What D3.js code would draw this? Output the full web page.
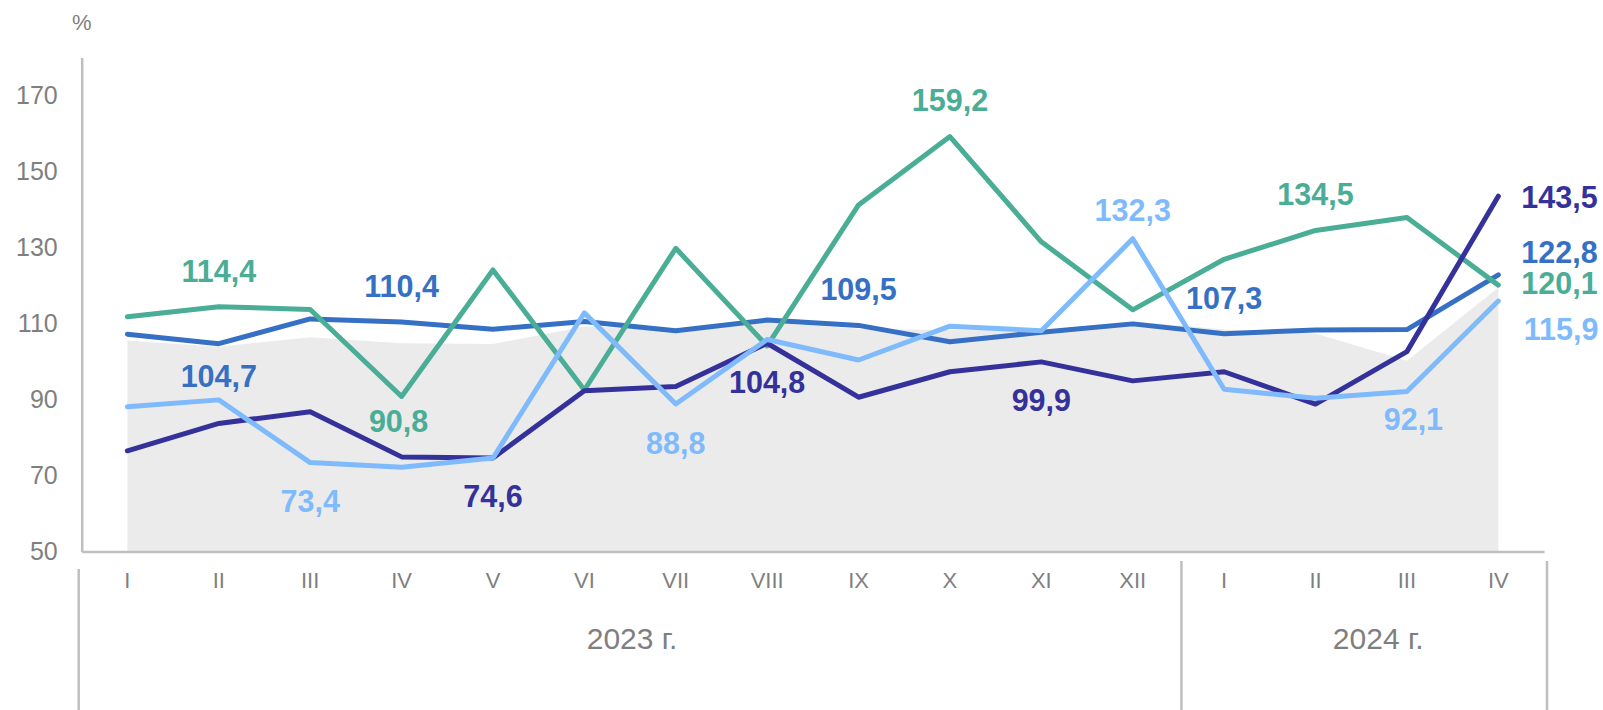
<!DOCTYPE html>
<html>
<head>
<meta charset="utf-8">
<script src="https://cdn.jsdelivr.net/npm/d3@7"></script>
<style>
  body { margin: 0; background: #fff; }
  svg { display: block; font-family: "Liberation Sans", Arial, sans-serif; }
</style>
</head>
<body>
<svg id="chart" width="1603" height="710"></svg>
<script>
// months (2023: I..XII, 2024: I..IV)
var months = ['I','II','III','IV','V','VI','VII','VIII','IX','X','XI','XII','I','II','III','IV'];
var years = ['2023 г.', '2024 г.'];
var yearStart = [0, 12];
var yTicks = [50, 70, 90, 110, 130, 150, 170];

// series values, %
var seriesNavy  = [76.5, 83.7, 86.8, 74.9, 74.6, 92.3, 93.4, 104.8, 90.6, 97.3, 99.9, 94.9, 97.3, 88.8, 102.6, 143.5];
var seriesBlue  = [107.2, 104.7, 111.2, 110.4, 108.5, 110.5, 108.1, 110.9, 109.5, 105.2, 107.7, 109.9, 107.3, 108.3, 108.4, 122.8];
var seriesTeal  = [111.8, 114.4, 113.7, 90.8, 124.1, 92.5, 129.8, 104.1, 141.2, 159.2, 131.5, 113.6, 126.9, 134.5, 137.9, 120.1];
var seriesLight = [88.1, 89.9, 73.4, 72.2, 74.6, 112.8, 88.8, 105.8, 100.4, 109.3, 108.1, 132.3, 92.7, 90.3, 92.1, 115.9];
var seriesArea  = [105.5, 103.9, 106.4, 104.8, 104.6, 109.2, 108.5, 110.3, 108.6, 108.3, 108.2, 110.6, 108.4, 107.4, 100.2, 119.5];

var colors = { navy: '#35319a', blue: '#3570c4', teal: '#4aad96', light: '#7fbbfc', area: '#ebebeb' };
var values = { navy: seriesNavy, blue: seriesBlue, teal: seriesTeal, light: seriesLight };

// which points carry a value label, and where it sits relative to the point
var labels = [
  {s: 'teal', i: 1, dy: -35.5}, {s: 'blue', i: 3, dy: -35.5}, {s: 'blue', i: 1, dy: 32.5},
  {s: 'teal', i: 3, dx: -3, dy: 25}, {s: 'light', i: 2, dy: 38.5}, {s: 'navy', i: 4, dy: 38},
  {s: 'light', i: 6, dy: 39}, {s: 'navy', i: 7, dy: 39}, {s: 'blue', i: 8, dy: -36},
  {s: 'teal', i: 9, dy: -36}, {s: 'navy', i: 10, dy: 38}, {s: 'light', i: 11, dy: -29},
  {s: 'blue', i: 12, dy: -35.5}, {s: 'teal', i: 13, dy: -36}, {s: 'light', i: 14, dx: 6.5, dy: 27.5},
  {s: 'navy', i: 15, dx: 23, dy: 1, end: true}, {s: 'blue', i: 15, dx: 23, dy: -22.4, end: true},
  {s: 'teal', i: 15, dx: 23, dy: -2.3, end: true}, {s: 'light', i: 15, dx: 25.5, dy: 28, end: true}
];

var plotLeft = 81.7, plotRight = 1544, plotTop = 57.5, plotBottom = 551.5;
var svg = d3.select('#chart');

var xScale = d3.scaleBand()
  .domain(d3.range(months.length))
  .range([plotLeft, plotRight])
  .padding(0);
var bw = xScale.bandwidth();
function cx(i) { return xScale(i) + bw / 2; }

var yScale = d3.scaleLinear()
  .domain([50, 180])
  .range([plotBottom, plotTop]);

// grey background area
svg.append('path')
  .datum(seriesArea)
  .attr('fill', colors.area)
  .attr('d', d3.area()
    .x(function(d, i) { return cx(i); })
    .y0(yScale(50))
    .y1(function(d) { return yScale(d); }));

// y axis
var yAxis = svg.append('g')
  .attr('transform', 'translate(' + plotLeft + ',0)')
  .call(d3.axisLeft(yScale).tickValues(yTicks).tickSize(0).tickSizeOuter(0).tickPadding(24));
yAxis.select('.domain').attr('stroke', '#bfbfbf').attr('stroke-width', 2.5);
yAxis.selectAll('text')
  .attr('fill', '#7f7f7f')
  .style('font-size', '25px')
  .style('font-family', '"Liberation Sans", Arial, sans-serif');

// x axis
var xAxis = svg.append('g')
  .attr('transform', 'translate(0,' + plotBottom + ')')
  .call(d3.axisBottom(xScale).tickFormat(function(d) { return months[d]; }).tickSize(0).tickSizeOuter(0).tickPadding(0));
xAxis.select('.domain').attr('stroke', '#bfbfbf').attr('stroke-width', 2.5);
xAxis.selectAll('text')
  .attr('fill', '#7f7f7f')
  .attr('dy', null)
  .attr('y', 36.4)
  .style('font-size', '22px')
  .style('font-family', '"Liberation Sans", Arial, sans-serif');

// year group separators + labels
var sepX = [plotLeft - 3, xScale(yearStart[1]) + 3, plotRight + 3];
svg.selectAll('line.sep')
  .data(sepX)
  .enter()
  .append('line')
  .attr('class', 'sep')
  .attr('x1', function(d) { return d; })
  .attr('x2', function(d) { return d; })
  .attr('y1', function(d, i) { return i == 0 ? 569 : 561; })
  .attr('y2', 710)
  .attr('stroke', '#bfbfbf')
  .attr('stroke-width', 2.5);

svg.selectAll('text.year')
  .data(years)
  .enter()
  .append('text')
  .attr('class', 'year')
  .attr('x', function(d, i) { return (sepX[i] + sepX[i + 1]) / 2 + (i == 1 ? 14 : 2); })
  .attr('y', 649)
  .attr('text-anchor', 'middle')
  .attr('fill', '#7f7f7f')
  .style('font-size', '30px')
  .text(function(d) { return d; });

// % unit
svg.append('text')
  .attr('x', plotLeft)
  .attr('y', 30)
  .attr('text-anchor', 'middle')
  .attr('fill', '#7f7f7f')
  .style('font-size', '22px')
  .text('%');

// lines
var line = d3.line()
  .x(function(d, i) { return cx(i); })
  .y(function(d) { return yScale(d); });

['blue', 'teal', 'navy', 'light'].forEach(function(k) {
  svg.append('path')
    .datum(values[k])
    .attr('fill', 'none')
    .attr('stroke', colors[k])
    .attr('stroke-width', 5)
    .attr('stroke-linejoin', 'round')
    .attr('stroke-linecap', 'round')
    .attr('d', line);
});

// value labels
var fmt = d3.format('.1f');
var fs = 30.5;
svg.selectAll('text.val')
  .data(labels)
  .enter()
  .append('text')
  .attr('class', 'val')
  .attr('x', function(d) { return cx(d.i) + (d.dx || 0); })
  .attr('y', function(d) { return yScale(values[d.s][d.i]) + d.dy + 0.358 * fs; })
  .attr('text-anchor', function(d) { return d.end ? 'start' : 'middle'; })
  .attr('fill', function(d) { return colors[d.s]; })
  .style('font-size', fs + 'px')
  .style('font-weight', 'bold')
  .text(function(d) { return fmt(values[d.s][d.i]).replace('.', ','); });
</script>
</body>
</html>
